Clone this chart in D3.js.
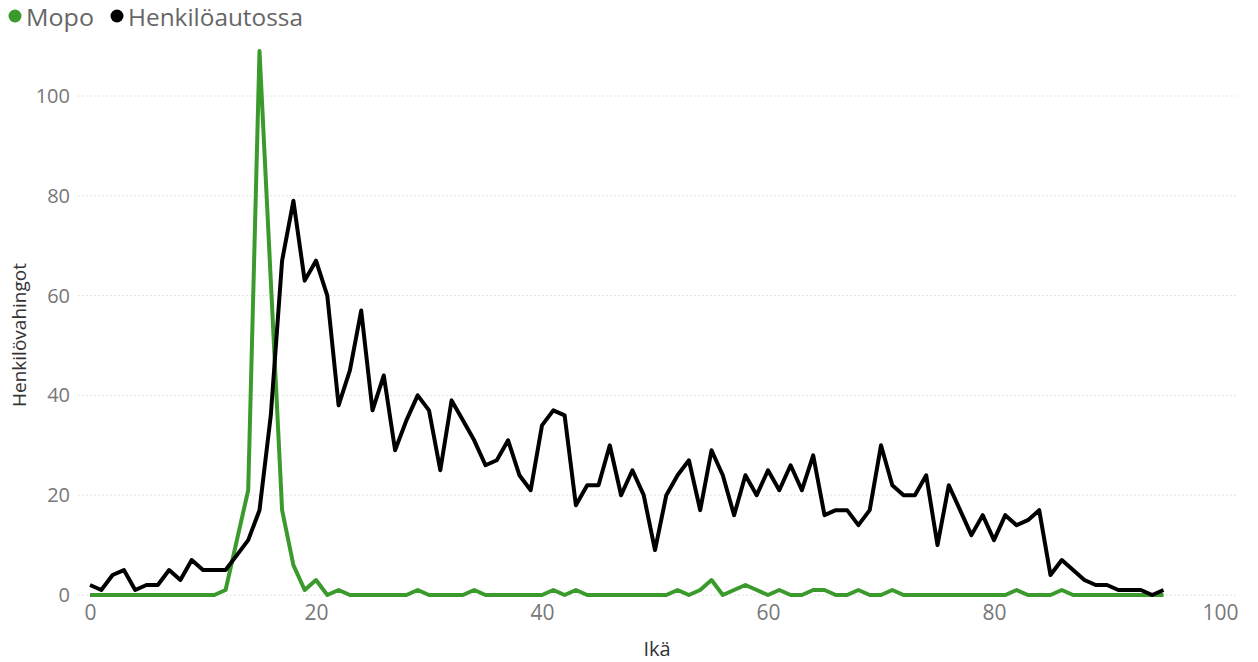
<!DOCTYPE html>
<html>
<head>
<meta charset="utf-8">
<script src="https://cdn.jsdelivr.net/npm/d3@7"></script>
<style>
  html, body { margin: 0; padding: 0; background: #fff; }
  svg { display: block; font-family: "Open Sans", "Noto Sans", sans-serif; }
</style>
</head>
<body>
<svg id="chart" width="1258" height="662"></svg>
<script>
const ages = d3.range(0, 96);
const henkiloautossa = [2,1,4,5,1,2,2,5,3,7,5,5,5,8,
  11,17,36,67,79,
  63,67,60,38,45,57,37,44,29,
  35,40,37,25,39,35,31,26,27,31,24,21,
  34,37,36,18,22,22,30,20,25,20,
  9,20,24,27,17,29,24,16,24,20,
  25,21,26,21,28,16,17,17,14,17,
  30,22,20,20,24,10,22,17,12,16,
  11,16,14,15,17,4,7,5,3,2,
  2,1,1,1,0,1];
const mopo = [0,0,0,0,0,0,0,0,0,0,0,0,1,11,21,109,63,17,6,1,
  3,0,1,0,0,0,0,0,0,1,
  0,0,0,0,1,0,0,0,0,0,
  0,1,0,1,0,0,0,0,0,0,
  0,0,1,0,1,3,0,1,2,1,
  0,1,0,0,1,1,0,0,1,0,
  0,1,0,0,0,0,0,0,0,0,
  0,0,1,0,0,0,1,0,0,0,
  0,0,0,0,0,0];
const xTicks = [0, 20, 40, 60, 80, 100];
const yTicks = [0, 20, 40, 60, 80, 100];
const seriesNames = ["Mopo", "Henkilöautossa"];
const seriesColors = ["#3A9A2C", "#000000"];

const svg = d3.select("#chart");
const x = d3.scaleLinear().domain([0, 100]).range([90, 1220]);
const y = d3.scaleLinear().domain([0, 100]).range([595, 96]);
const gridX0 = 78, gridX1 = 1236;

// gridlines
svg.append("g").selectAll("line").data(yTicks).join("line")
  .attr("x1", gridX0).attr("x2", gridX1)
  .attr("y1", d => y(d)).attr("y2", d => y(d))
  .attr("stroke", "#d8d8d8").attr("stroke-width", 1)
  .attr("stroke-dasharray", "1.5,2.5");

// y axis
const yAxis = svg.append("g").attr("transform", "translate(70,0)")
  .call(d3.axisLeft(y).tickValues(yTicks).tickSize(0).tickPadding(0));
yAxis.select(".domain").remove();
yAxis.selectAll("text").attr("font-size", 20).attr("fill", "#777")
  .attr("font-family", "'Open Sans', 'Noto Sans', sans-serif");

// x axis
const xAxis = svg.append("g").attr("transform", "translate(0,605)")
  .call(d3.axisBottom(x).tickValues(xTicks).tickSize(0).tickPadding(0));
xAxis.select(".domain").remove();
xAxis.selectAll("text").attr("font-size", 21).attr("fill", "#777")
  .attr("font-family", "'Open Sans', 'Noto Sans', sans-serif");

// axis titles
svg.append("text").attr("x", 657).attr("y", 656)
  .attr("text-anchor", "middle").attr("font-size", 20).attr("fill", "#333")
  .text("Ikä");
svg.append("text").attr("transform", "translate(26,335) rotate(-90)")
  .attr("text-anchor", "middle").attr("font-size", 19).attr("fill", "#333")
  .text("Henkilövahingot");

// lines
const line = d3.line().x((d, i) => x(ages[i])).y(d => y(d));
svg.append("path").datum(mopo).attr("d", line)
  .attr("fill", "none").attr("stroke", seriesColors[0])
  .attr("stroke-width", 4).attr("stroke-linejoin", "round");
svg.append("path").datum(henkiloautossa).attr("d", line)
  .attr("fill", "none").attr("stroke", seriesColors[1])
  .attr("stroke-width", 4).attr("stroke-linejoin", "round");

// legend
const legend = svg.append("g");
const legendX = [15, 117];
const legendW = [68, 175];
seriesNames.forEach((name, i) => {
  legend.append("circle").attr("cx", legendX[i]).attr("cy", 16).attr("r", 6.5)
    .attr("fill", seriesColors[i]);
  legend.append("text").attr("x", legendX[i] + 11).attr("y", 26)
    .attr("font-size", 23).attr("fill", "#666")
    .attr("textLength", legendW[i]).attr("lengthAdjust", "spacingAndGlyphs")
    .text(name);
});
</script>
</body>
</html>
